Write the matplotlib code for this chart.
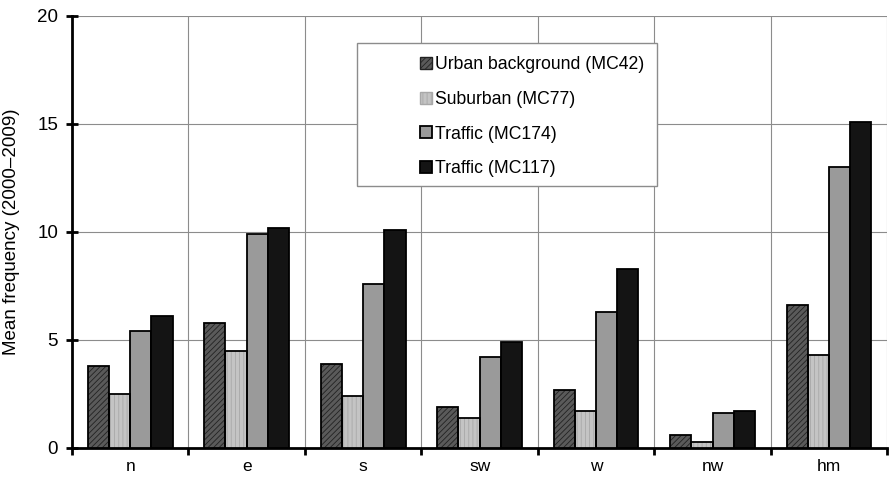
import numpy as np
import matplotlib.pyplot as plt
import matplotlib as mpl
from matplotlib.patches import Rectangle

plt.rcParams['font.family'] = ['Liberation Sans', 'DejaVu Sans']
mpl.rcParams['hatch.linewidth'] = 0.6

categories = ["n", "e", "s", "sw", "w", "nw", "hm"]
series_names = ["Urban background (MC42)", "Suburban (MC77)",
                "Traffic (MC174)", "Traffic (MC117)"]
urban_mc42 = [3.8, 5.8, 3.9, 1.9, 2.7, 0.6, 6.6]
suburban_mc77 = [2.5, 4.5, 2.4, 1.4, 1.7, 0.3, 4.3]
traffic_mc174 = [5.4, 9.9, 7.6, 4.2, 6.3, 1.6, 13.0]
traffic_mc117 = [6.1, 10.2, 10.1, 4.9, 8.3, 1.7, 15.1]

values = [urban_mc42, suburban_mc77, traffic_mc174, traffic_mc117]
faces = ["#5a5a5a", "#c4c4c4", "#9a9a9a", "#141414"]
hatches = ["//////", "||||", None, None]
hatch_cols = ["#222222", "#a8a8a8", None, None]

fig = plt.figure(figsize=(8.93, 4.84), dpi=100)
ax = fig.add_axes([0.0806, 0.0744, 0.913, 0.8926])

x = np.arange(len(categories))
w = 0.182
for i, (vals, fc, h, hc) in enumerate(zip(values, faces, hatches, hatch_cols)):
    pos = x + (i - 1.5) * w
    if h:
        ax.bar(pos, vals, w, color=fc, edgecolor=hc, hatch=h, linewidth=0, zorder=3)
        ax.bar(pos, vals, w, color="none", edgecolor="black", linewidth=1.3, zorder=4)
        ax.bar([np.nan], [np.nan], color=fc, edgecolor=hc, hatch=h, label=series_names[i])
    else:
        ax.bar(pos, vals, w, color=fc, edgecolor="black", linewidth=1.3, zorder=3,
               label=series_names[i])

ax.set_xlim(-0.5, len(categories) - 0.5)
ax.set_ylim(0, 20)
ax.set_yticks([0, 5, 10, 15, 20])
ax.set_xticks(x)
ax.set_xticklabels(categories)
ax.set_xticks(np.arange(-0.5, len(categories) + 0.5, 1), minor=True)
ax.tick_params(axis="x", which="major", length=0, labelsize=12.5, pad=8)
ax.tick_params(axis="x", which="minor", length=5, width=2, direction="out")
ax.tick_params(axis="y", length=8, width=2, direction="inout", labelsize=13.5, pad=6)

ax.yaxis.grid(True, color="#8c8c8c", linewidth=0.8, zorder=0)
ax.xaxis.grid(True, which="minor", color="#8c8c8c", linewidth=0.8, zorder=0)
for s in ["top", "right"]:
    ax.spines[s].set_visible(False)
ax.spines["left"].set_linewidth(2)
ax.spines["bottom"].set_linewidth(2)

ax.set_ylabel("Mean frequency (2000\u20132009)", fontsize=13.5, labelpad=12)

# legend frame drawn separately: the source has a wide empty margin on the left
frame = Rectangle((357 / 893, 1 - 186 / 484), 300 / 893, 143 / 484,
                  transform=fig.transFigure, facecolor="white",
                  edgecolor="#8c8c8c", linewidth=1.0, zorder=5)
fig.patches.append(frame)

handles, labels = ax.get_legend_handles_labels()
leg = fig.legend(handles, labels, loc="upper left",
                 bbox_to_anchor=(415 / 893, 1 - 51 / 484),
                 fontsize=12.7, frameon=False, handlelength=0.65,
                 handleheight=0.65, handletextpad=0.2, labelspacing=1.0,
                 borderpad=0.3, borderaxespad=0)
leg.set_zorder(6)

fig.savefig("out.png", dpi=100)
